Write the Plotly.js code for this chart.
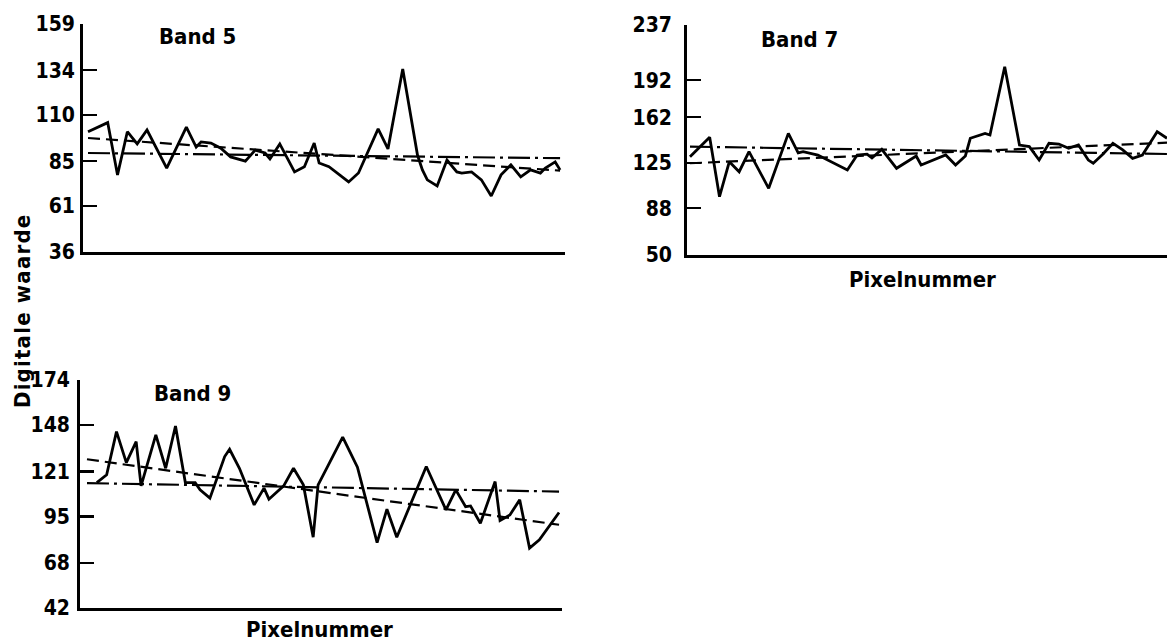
<!DOCTYPE html>
<html>
<head>
<meta charset="utf-8">
<script src="https://cdn.plot.ly/plotly-3.0.1.min.js"></script>
<style>
  html, body { margin: 0; padding: 0; background: #fff; }
  #chart { width: 1167px; height: 644px; }
</style>
</head>
<body>
<div id="chart"></div>
<script>
// ---- Data ----
const band5Pixel = [0,4,6,8,10,12,16,20,22,23,25,27,29,32,34,36,37,39,42,44,46,47,49,53,55,59,61,64,67,68,69,71,73,75,76,78,80,82,84,86,88,90,92,93,95,96];
const band5Value = [100.9,105.8,77.6,100.9,94.3,101.8,81.3,103.4,92.6,95.4,94.8,92,87.3,85,91,89.4,86.2,94.3,79.2,82,94.8,84,82,73.8,78.6,102.4,91.6,134.7,88.3,80.3,74.9,71.6,85.6,79.2,78.6,79.2,74.9,66.2,77.6,83,76.5,80.3,78.6,81.3,84.6,80.3];
const band5TrendPixel = [0, 96];
const band5Dashed = [97.5, 79.9];
const band5DashDot = [89.4, 86.6];
const band5Ticks = [36, 61, 85, 110, 134, 159];

const band7Pixel = [0,4,6,8,10,12,16,20,22,23,26,32,34,36,37,39,42,46,47,52,54,56,57,60,61,64,67,69,71,73,75,77,79,81,82,84,86,88,90,92,95,97];
const band7Value = [129.9,145.7,97.4,125.9,117.7,134,104.2,148.9,133,134,131.3,119.1,131.3,132,128.9,135.9,120.5,130.5,123.2,131.3,123.2,130.5,144.9,148.9,147.6,203.1,139.4,138.1,127.2,140.8,140.2,136.7,139.4,127.2,124.6,132.1,140.8,135.4,128.6,131.3,150.3,144.9];
const band7TrendPixel = [0, 97];
const band7Dashed = [124.6, 141.3];
const band7DashDot = [138.1, 132.1];
const band7Ticks = [50, 88, 125, 162, 192, 237];

const band9Pixel = [2,4,6,8,10,11,14,16,18,20,22,23,25,28,29,31,34,36,37,40,42,44,46,47,49,52,55,59,61,63,69,71,73,75,77,78,80,83,84,86,88,90,92,96];
const band9Value = [114.6,119.1,144.1,126.2,138.3,112.7,142.2,122.9,147.4,114.6,114.6,110.4,105.6,129.7,133.9,122.9,101.7,111.4,105,112.7,122.9,113.3,83,113.3,124.3,140.9,123.5,79.9,99.2,83,123.9,111.4,98.8,110.4,100.7,101.1,91.1,115.2,92.6,95.9,104.6,76.7,81.5,97.3];
const band9TrendPixel = [0, 96];
const band9Dashed = [128.1, 90.2];
const band9DashDot = [114.3, 109.4];
const band9Ticks = [42, 68, 95, 121, 148, 174];

const bandNames = ['Band 5', 'Band 7', 'Band 9'];
const xTitle = 'Pixelnummer';
const yTitle = 'Digitale waarde';

// ---- Styling ----
const W = 1167, H = 644;
const FONT = 'DejaVu Sans Condensed, DejaVu Sans, sans-serif';
const px = v => v / W;
const py = v => 1 - v / H;

const dataLine = { color: '#000', width: 2.8 };
const dashedLine = { color: '#000', width: 2.2, dash: '12px,6px' };
const dashDotLine = { color: '#000', width: 2.2, dash: '22px,5px,3px,5px' };

function series(xa, ya, x, y, line) {
  return { type: 'scatter', mode: 'lines', x: x, y: y, xaxis: xa, yaxis: ya,
           line: line, hoverinfo: 'skip', showlegend: false };
}

const traces = [
  series('x', 'y', band5TrendPixel, band5Dashed, dashedLine),
  series('x', 'y', band5TrendPixel, band5DashDot, dashDotLine),
  series('x', 'y', band5Pixel, band5Value, dataLine),
  series('x2', 'y2', band7TrendPixel, band7Dashed, dashedLine),
  series('x2', 'y2', band7TrendPixel, band7DashDot, dashDotLine),
  series('x2', 'y2', band7Pixel, band7Value, dataLine),
  series('x3', 'y3', band9TrendPixel, band9Dashed, dashedLine),
  series('x3', 'y3', band9TrendPixel, band9DashDot, dashDotLine),
  series('x3', 'y3', band9Pixel, band9Value, dataLine)
];

function xAxis(domain, range, anchor) {
  return { domain: domain, range: range, anchor: anchor, showline: true, linecolor: '#000',
           linewidth: 2.8, showgrid: false, zeroline: false, ticks: '', showticklabels: false,
           fixedrange: true };
}
function yAxis(domain, range, anchor, ticks, standoff) {
  return { domain: domain, range: range, anchor: anchor, showline: true, linecolor: '#000',
           linewidth: 2.8, showgrid: false, zeroline: false, tickmode: 'array',
           tickvals: ticks, ticktext: ticks.map(String), ticks: 'inside', ticklen: 14,
           tickwidth: 2.2, tickcolor: '#000', ticklabelstandoff: standoff,
           tickfont: { family: FONT, size: 21, color: '#000', weight: 'bold' }, fixedrange: true };
}

function label(text, x, y, size, angle) {
  return { text: text, xref: 'paper', yref: 'paper', x: px(x), y: py(y),
           xanchor: 'center', yanchor: 'middle', showarrow: false, textangle: angle || 0,
           font: { family: FONT, size: size, color: '#000', weight: 'bold' } };
}

const layout = {
  width: W, height: H,
  margin: { l: 0, r: 0, t: 0, b: 0, pad: 0 },
  paper_bgcolor: '#fff', plot_bgcolor: '#fff',
  showlegend: false,
  xaxis: xAxis([px(83), px(565)], [-1.02, 97.0], 'y'),
  yaxis: yAxis([py(252), py(24)], [36, 159], 'x', band5Ticks, 1),
  xaxis2: xAxis([px(687), 1], [-0.61, 97.0], 'y2'),
  yaxis2: yAxis([py(255), py(25)], [50, 237], 'x2', band7Ticks, 8),
  xaxis3: xAxis([px(80), px(562)], [-1.42, 96.6], 'y3'),
  yaxis3: yAxis([py(608), py(380)], [42, 174], 'x3', band9Ticks, 3),
  annotations: [
    label(bandNames[0], 197, 36, 22),
    label(bandNames[1], 799, 39, 22),
    label(bandNames[2], 192, 393, 22),
    label(xTitle, 922, 279, 22),
    label(xTitle, 319, 629, 22),
    label(yTitle, 22, 311, 22, -90)
  ]
};

Plotly.newPlot('chart', traces, layout, { displayModeBar: false, staticPlot: true }).then(() => {
  document.querySelectorAll('.annotation-text').forEach(t => {
    if (t.textContent === yTitle) t.style.letterSpacing = '1.2px';
  });
});
</script>
</body>
</html>
